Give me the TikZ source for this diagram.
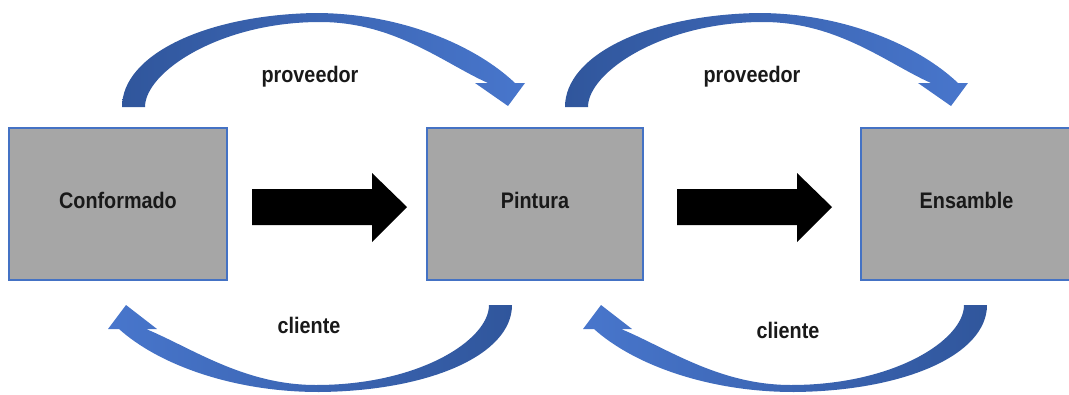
\documentclass[tikz,border=0pt]{standalone}
\usepackage{fontspec}
\setmainfont{Liberation Sans}[FakeStretch=0.88]
\begin{document}
\begin{tikzpicture}[x=1pt,y=-1pt,
  every node/.style={font=\fontsize{22.5}{25}\selectfont\bfseries, text=black!90},
  stage/.style={draw=edgeblue, line width=1.1pt, fill=boxgray, inner sep=0pt,
                minimum height=152pt, text depth=8pt},
  flowarrow/.style={fill=black},
  loopdown/.style={left color=arcdark, right color=arclight, draw=none},
  loopup/.style={left color=arclight, right color=arcdark, draw=none}]
\definecolor{edgeblue}{RGB}{68,114,196}
\definecolor{boxgray}{RGB}{166,166,166}
\definecolor{arcdark}{RGB}{48,86,156}
\definecolor{arclight}{RGB}{72,118,204}

\clip (0,0) rectangle (1069,394);
\useasboundingbox (0,0) rectangle (1069,394);

% process stages
\node[stage, minimum width=218pt] (conf) at (118,204) {Conformado};
\node[stage, minimum width=216pt] (pint) at (535,204) {Pintura};
\node[stage, minimum width=211pt] (ens)  at (966.5,204) {Ensamble};

% material flow arrows between the stages
\foreach \dx in {0,425}{
  \fill[flowarrow, xshift=\dx pt]
    (252,189) -- (372,189) -- (372,173) -- (407,207) -- (372,242)
    -- (372,225) -- (252,225) -- cycle;
}

% supplier loops over the top
\foreach \dx in {0,443}{
  \path[loopdown, xshift=\dx pt]
    (122,107) .. controls (122,55) and (205,15) .. (315,13)
    .. controls (400,13) and (475,45) .. (515,83)
    -- (525,83) -- (508,106) -- (475,83) -- (488,83)
    .. controls (445,64) and (395,22) .. (320,22)
    .. controls (220,22) and (145,72) .. (145,107) -- cycle;
}

% customer loops underneath
\foreach \dx in {0,475}{
  \path[loopup, xshift=\dx pt]
    (512,305) .. controls (512,355) and (429,391) .. (319,392)
    .. controls (234,392) and (159,365) .. (119,329)
    -- (108,329) -- (126,305) -- (157,329) -- (146,329)
    .. controls (192,348) and (244,385) .. (316,385)
    .. controls (419,385) and (489,340) .. (489,305) -- cycle;
}

% loop labels
\node (prov1) at (310,77) {proveedor};
\node (prov2) at (752,77) {proveedor};
\node (cli1)  at (309,325) {cliente};
\node (cli2)  at (788,330) {cliente};
\end{tikzpicture}
\end{document}
